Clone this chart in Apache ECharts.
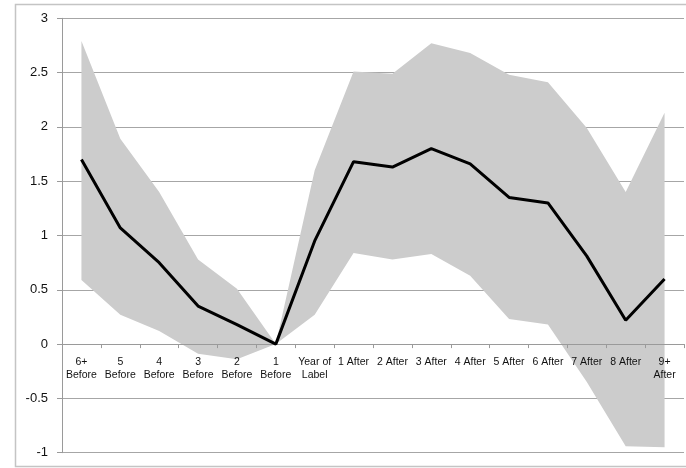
<!DOCTYPE html>
<html>
<head>
<meta charset="utf-8">
<script src="https://cdn.jsdelivr.net/npm/echarts@6/dist/echarts.min.js"></script>
<style>html,body{margin:0;padding:0;background:#fff}#c{width:686px;height:468px}</style>
</head>
<body>
<div id="c"></div>
<script>
var categories = ["6+\nBefore","5\nBefore","4\nBefore","3\nBefore","2\nBefore","1\nBefore","Year of\nLabel","1 After","2 After","3 After","4 After","5 After","6 After","7 After","8 After","9+\nAfter"];
var estimate = [1.70,1.07,0.75,0.35,0.18,0,0.95,1.68,1.63,1.80,1.66,1.35,1.30,0.81,0.22,0.60];
var upper = [2.79,1.89,1.40,0.78,0.51,0,1.60,2.51,2.49,2.77,2.68,2.48,2.41,1.99,1.40,2.13];
var lower = [0.59,0.27,0.12,-0.09,-0.14,0,0.27,0.84,0.78,0.83,0.63,0.23,0.18,-0.35,-0.94,-0.95];
var yTicks = {min:-1, max:3, interval:0.5};

var bandWidth = upper.map(function(u,i){ return +(u - lower[i]).toFixed(4); });

var chart = echarts.init(document.getElementById('c'));
chart.setOption({
  animation:false,
  backgroundColor:'#fff',
  textStyle:{fontFamily:'Liberation Sans'},
  graphic:[{type:'rect', shape:{x:15.5,y:4.5,width:690,height:462}, style:{fill:'none',stroke:'#c4c4c4',lineWidth:1.5}, silent:true, z:-10}],
  grid:{left:62,right:2,top:18.3,bottom:15.3},
  xAxis:[{
    type:'category', data:categories, boundaryGap:true, z:2.5,
    axisLine:{onZero:true, lineStyle:{color:'#9a9a9a',width:1}},
    axisTick:{show:true, length:4, interval:0, lineStyle:{color:'#9a9a9a'}},
    axisLabel:{show:false},
    splitLine:{show:false}
  },{
    type:'category', data:categories, boundaryGap:true, position:'bottom', offset:-108.4, z:10,
    axisLine:{show:false}, axisTick:{show:false},
    axisLabel:{interval:0, margin:11, fontSize:10.5, lineHeight:13, color:'#111', fontFamily:'Liberation Sans'},
    splitLine:{show:false}
  }],
  yAxis:{
    type:'value', min:yTicks.min, max:yTicks.max, interval:yTicks.interval,
    axisLine:{show:true, lineStyle:{color:'#9a9a9a',width:1}},
    axisTick:{show:true, length:5, lineStyle:{color:'#9a9a9a'}},
    axisLabel:{margin:14, fontSize:13, color:'#111', fontFamily:'Liberation Sans'},
    splitLine:{show:true, lineStyle:{color:'#a6a6a6',width:1}}
  },
  series:[
    {type:'line', data:lower, stack:'band', stackStrategy:'all', symbol:'none', lineStyle:{opacity:0}, silent:true, z:2},
    {type:'line', data:bandWidth, stack:'band', stackStrategy:'all', symbol:'none', lineStyle:{opacity:0}, areaStyle:{color:'#cccccc',opacity:1}, silent:true, z:2},
    {type:'line', data:estimate, symbol:'none', lineStyle:{color:'#000',width:3}, z:3}
  ]
});
</script>
</body>
</html>
